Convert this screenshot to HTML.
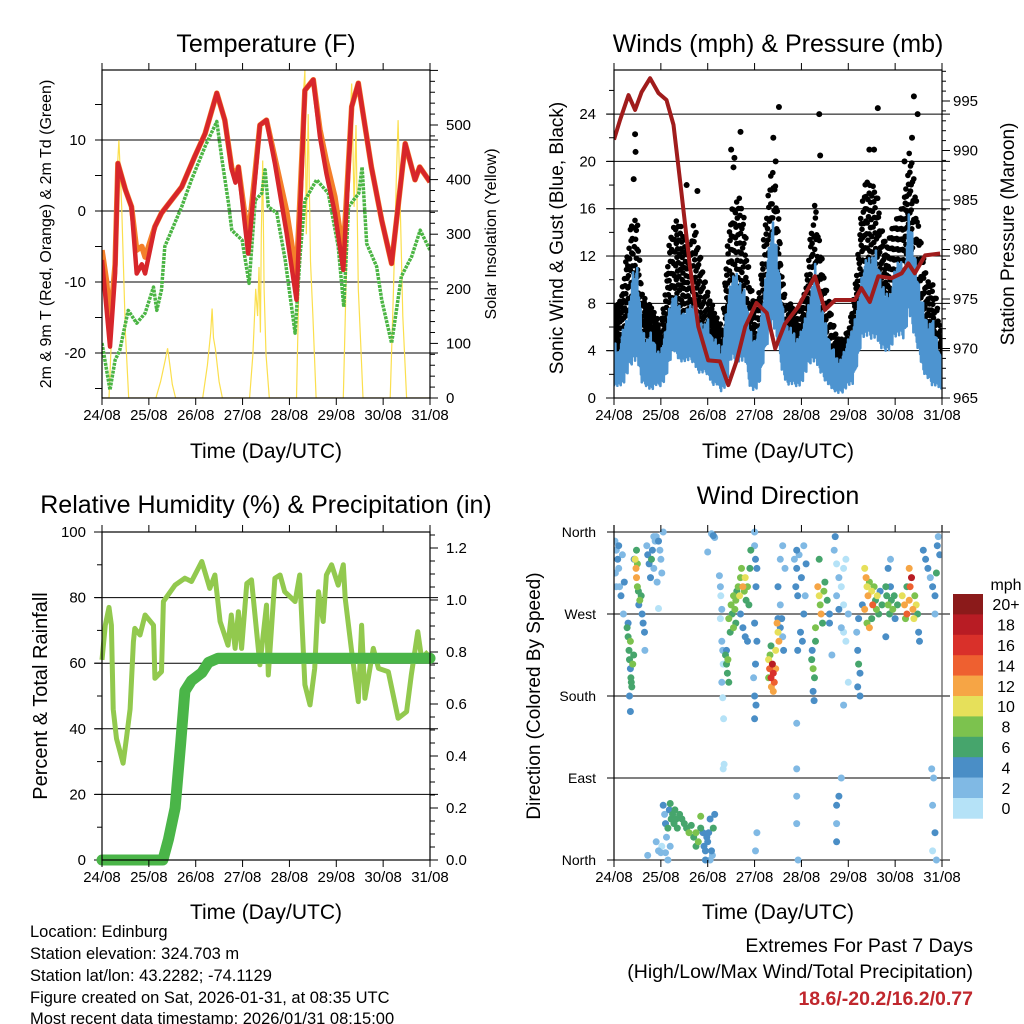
<!DOCTYPE html>
<html><head><meta charset="utf-8"><title>Weather Station</title>
<style>
html,body{margin:0;padding:0;background:#fff;}
svg{display:block;font-family:"Liberation Sans",Arial,sans-serif;}
</style></head>
<body>
<svg id="fig" xmlns="http://www.w3.org/2000/svg" width="1024" height="1024" viewBox="0 0 1024 1024">
<rect width="1024" height="1024" fill="#fff"/>
<g id="g-temp"></g>
<g id="g-wind"></g>
<g id="g-rh"></g>
<g id="g-dir"></g>
<g font-size="16.5" fill="#000">
<text x="30" y="937">Location: Edinburg</text>
<text x="30" y="959">Station elevation: 324.703 m</text>
<text x="30" y="981">Station lat/lon: 43.2282; -74.1129</text>
<text x="30" y="1003">Figure created on Sat, 2026-01-31, at 08:35 UTC</text>
<text x="30" y="1024">Most recent data timestamp: 2026/01/31 08:15:00</text>
</g>
<g font-size="19.5" text-anchor="end">
<text x="973" y="952">Extremes For Past 7 Days</text>
<text x="973" y="978">(High/Low/Max Wind/Total Precipitation)</text>
<text x="973" y="1005" font-weight="bold" fill="#c0272d">18.6/-20.2/16.2/0.77</text>
</g>
</svg>
<script>
// ---------- data ----------
const dayLabels = ["24/08","25/08","26/08","27/08","28/08","29/08","30/08","31/08"];
const tempTicks = [-20,-10,0,10];
const solarTicks = [0,100,200,300,400,500];
const windTicks = [0,4,8,12,16,20,24];
const pressTicks = [965,970,975,980,985,990,995];
const rhTicks = [0,20,40,60,80,100];
const precipTicks = ["0.0","0.2","0.4","0.6","0.8","1.0","1.2"];
const dirLabels = ["North","West","South","East","North"];
const dirTickVals = [360,270,180,90,0];
const speedLabels = ["0","2","4","6","8","10","12","14","16","18","20+"];
const speedColors = ["#b5e2f7","#80b9e4","#4a8ec6","#46a56c","#7cc24e","#e6e05a","#f6a545","#ee6030","#d9302a","#b81c24","#8b1a1a"];

const t2mTimes = [0,0.1,0.17,0.28,0.34,0.5,0.63,0.74,0.85,0.92,1.13,1.27,1.7,1.98,2.2,2.45,2.62,2.77,2.85,2.91,3.12,3.37,3.51,3.69,3.94,4.15,4.33,4.51,4.65,4.79,4.97,5.15,5.33,5.47,5.75,5.97,6.18,6.47,6.68,6.78,7.0];
const t2mVals = [-6.9,-14,-19.1,-8.8,6.7,3,0.6,-8.8,-7.5,-8.8,-2.2,-0.3,3.4,7.7,10.9,16.6,12.8,5.8,4,6.2,-6.0,12.1,12.8,6.7,-3.1,-12.5,17,18.5,10.5,5.3,-0.3,-8.3,14.7,18,6.2,-1.3,-7.4,9.5,4.4,6.2,4.1];
const t9mTimes = [0,0.1,0.17,0.28,0.34,0.5,0.63,0.74,0.85,0.92,1.13,1.27,1.7,1.98,2.2,2.45,2.62,2.77,2.85,2.91,3.12,3.37,3.51,3.69,3.94,4.15,4.33,4.51,4.65,4.79,4.97,5.15,5.33,5.47,5.75,5.97,6.18,6.47,6.68,6.78,7.0];
const t9mVals = [-5.5,-10,-16,-7.5,6.7,3,0.6,-5.5,-5,-6.5,-2.2,-0.3,3.4,7.7,10.9,16.6,12.8,6,5,6.2,-4,12.1,12.8,7.5,0,-9,17,18.5,11.5,7,2,-6,14.7,18,6.2,-1.3,-7.4,9.5,4.4,6.2,4.1];
const tdTimes = [0,0.17,0.28,0.38,0.56,0.74,0.92,1.1,1.17,1.27,1.34,1.7,1.91,2.2,2.45,2.56,2.7,2.77,2.99,3.14,3.27,3.41,3.48,3.55,3.73,3.91,4.12,4.23,4.33,4.58,4.83,5.04,5.16,5.26,5.48,5.55,5.65,5.86,5.97,6.18,6.39,6.61,6.79,7.0];
const tdVals = [-18.6,-25.2,-21,-19.6,-14,-15.8,-14.4,-10.7,-14,-11.1,-5,0.6,4.4,9.1,12.6,7.2,1.1,-2.7,-4.1,-10.2,1.5,2.5,5.8,0.6,-0.3,-6.9,-17.2,-6,1.5,4.4,2.5,-5,-13.5,0.6,2.5,6.2,-4.6,-7.8,-12.5,-18.6,-9.2,-6.4,-2.7,-5.5];
const solarTimes = [0,0.15,0.22,0.3,0.36,0.42,0.5,0.57,1.15,1.25,1.35,1.4,1.45,1.5,1.57,2.15,2.25,2.32,2.35,2.38,2.42,2.5,2.57,3.15,3.22,3.28,3.32,3.35,3.38,3.4,3.43,3.46,3.5,3.57,4.15,4.2,4.25,4.3,4.33,4.36,4.4,4.45,4.5,4.57,5.15,5.22,5.28,5.33,5.38,5.42,5.47,5.52,5.57,6.15,6.22,6.28,6.32,6.38,6.42,6.5,7.0];
const solarVals = [0,0,150,380,472,350,120,0,0,30,70,91,60,25,0,0,60,120,164,110,90,30,0,0,80,200,150,240,120,300,435,200,80,0,0,200,440,560,600,300,520,250,150,0,0,250,480,576,350,500,200,100,0,0,200,400,509,300,150,0,0];

const pressTimes = [0,0.13,0.31,0.45,0.59,0.77,0.95,1.12,1.27,1.44,1.62,1.8,2.01,2.26,2.44,2.62,2.8,3.04,3.26,3.44,3.65,3.93,4.29,4.5,4.72,5.14,5.28,5.46,5.64,5.92,6.14,6.28,6.42,6.64,6.96];
const pressVals = [991.1,993.1,995.6,994.1,995.9,997.3,995.8,995.1,992.6,985.7,978.3,972.2,968.8,968.7,966.3,968.8,972.2,974.6,973.6,970,972.5,974.2,977.3,973.9,974.9,974.9,976.1,974.7,977.3,977.1,977.6,978.6,977.6,979.4,979.6];
const windTimes = [0,0.1,0.2,0.3,0.4,0.5,0.6,0.7,0.8,0.9,1.0,1.1,1.2,1.3,1.4,1.5,1.6,1.7,1.8,1.9,2.0,2.1,2.2,2.3,2.4,2.5,2.6,2.7,2.8,2.9,3.0,3.1,3.2,3.3,3.4,3.5,3.6,3.7,3.8,3.9,4.0,4.1,4.2,4.3,4.4,4.5,4.6,4.7,4.8,4.9,5.0,5.1,5.2,5.3,5.4,5.5,5.6,5.7,5.8,5.9,6.0,6.1,6.2,6.3,6.4,6.5,6.6,6.7,6.8,6.9,7.0];
const sonicHigh = [5,4,6,7,11,11,6,5,6,4,4,6,8,9,8,7,8,8,7,6,7,5,5,4,8,10,11,10,9,6,5,6,9,13,15,12,8,6,6,5,6,7,9,12,8,7,5,4,3,4,5,6,8,11,12,12,13,10,9,9,11,12,11,16,13,10,8,6,7,5,3];
const sonicLow = [1,1,1,2,3,3,1,1,0.5,1,1,1.5,3,4,3,3,3,3,2,2,2,1,1,0.5,1,3,3,3,3,1,0.5,1,3,5,6,4,2,1,1,1,1,2,3,3,2,1.5,1,0.5,0.3,0.5,1,1,3,5,5,5,5,4,4,4,5,5,5,7,5,4,2,1.5,1,1,0.5];
const gustHigh = [8,8,10,13,16,15,9,8,8,7,6,10,14,15,15,14,13,15,13,11,9,8,7,6,12,16,17,17,15,10,8,9,14,18,20,16,10,8,8,7,8,10,14,17,13,10,8,6,5,5,6,8,12,17,19,18,18,15,13,14,15,16,17,21,19,15,12,10,10,8,5];
const gustLow = [4,4,4,5,6,5,3,4,3,2,2,3,6,7,7,6,6,6,5,4,3,3,2,2,4,7,8,7,6,3,3,3,6,8,10,8,4,3,3,3,2,4,6,7,5,4,3,2,2,2,2,3,5,9,10,9,9,8,7,7,8,9,10,12,10,7,5,4,3,3,2];
const gustPeakTimes = [0.45,0.46,0.42,2.5,2.7,2.57,3.52,3.45,4.38,4.4,5.63,5.55,6.4,6.48,6.36,1.55,1.78,2.55,3.4,5.45,6.2];
const gustPeakVals = [22.3,20.8,18.5,21,22.5,20.3,24.6,20,24,20.5,24.5,21,25.5,24,22,18,17.5,19.5,22,21,20];

const rhTimes = [0,0.07,0.15,0.2,0.24,0.31,0.45,0.52,0.6,0.67,0.7,0.81,0.92,1.1,1.13,1.27,1.31,1.56,1.77,1.91,2.13,2.3,2.41,2.52,2.69,2.76,2.84,2.91,2.98,3.09,3.19,3.37,3.51,3.55,3.69,3.8,3.9,4.12,4.22,4.33,4.44,4.54,4.62,4.72,4.79,4.9,5.04,5.15,5.19,5.33,5.47,5.54,5.61,5.79,5.9,6.11,6.32,6.5,6.6,6.74,6.82,6.96];
const rhVals = [61,71.6,77,71.6,46,37,29.5,37,46,66.5,70.6,68.6,74.7,71.6,55.4,57.4,78.8,83.8,85.9,84.9,91,82.8,86.9,72.7,65.5,74.7,64.5,75.7,64.5,84.3,85.4,59.5,77.7,56.4,85.9,86.9,81.8,78.8,86.9,53.4,47.3,58.4,81.8,72.7,86.9,90,83.8,90,79.8,63.5,48.3,71.6,49.3,64.5,58.4,57.4,43.2,45.2,56.4,69.6,61.5,63.5];
const precipTimes = [0,1.3,1.42,1.56,1.68,1.77,1.91,2.13,2.27,2.48,7.0];
const precipVals = [0,0,0.08,0.2,0.45,0.65,0.69,0.72,0.76,0.776,0.776];

const dirDays = [0.02,0.05,0.08,0.1,0.03,0.12,0.15,0.2,0.05,0.1,0.18,0.22,
0.28,0.3,0.32,0.33,0.35,0.36,0.38,0.4,0.42,0.35,0.3,0.33,0.37,0.35,
0.45,0.47,0.48,0.5,0.52,0.55,0.5,0.53,0.6,0.62,0.58,0.65,0.66,0.48,0.43,
0.7,0.72,0.75,0.8,0.82,0.85,0.88,0.9,0.95,0.98,1.0,1.02,0.78,0.92,0.85,1.05,0.95,
1.05,1.08,1.1,1.12,1.15,1.18,1.2,1.22,1.25,1.28,1.3,1.33,1.35,1.0,1.02,0.9,0.95,0.72,1.1,1.2,1.15,
1.4,1.45,1.5,1.55,1.6,1.65,1.7,1.75,1.8,1.85,1.9,1.92,1.95,1.98,2.0,2.02,2.05,2.08,2.1,2.12,1.85,1.75,2.15,1.95,2.05,
2.08,2.12,2.15,2.0,
2.25,2.27,2.28,2.3,2.27,2.3,2.32,2.33,2.3,2.32,2.34,2.33,2.35,
2.38,2.4,2.42,2.4,2.45,2.43,
2.5,2.52,2.55,2.58,2.6,2.62,2.65,2.68,2.7,2.72,2.75,2.78,2.8,2.82,2.85,2.88,2.9,2.92,2.55,2.6,2.45,2.48,2.7,2.75,2.8,2.85,
3.0,3.02,3.05,3.03,3.0,3.05,3.02,3.0,3.03,3.0,2.98,3.05,3.02,3.0,
3.3,3.32,3.35,3.38,3.4,3.42,3.36,3.33,3.4,3.45,3.3,3.45,3.35,
3.48,3.5,3.52,3.55,3.58,3.6,3.62,3.55,3.5,3.6,3.65,3.55,
3.85,3.9,3.95,4.0,3.88,3.92,4.05,3.98,4.02,3.9,4.05,4.1,4.08,3.92,3.9,3.9,3.9,3.9,3.93,3.5,
4.22,4.25,4.28,4.25,4.27,4.23,4.3,
4.35,4.38,4.4,4.42,4.45,4.48,4.5,4.55,4.6,4.38,4.3,
4.7,4.75,4.8,4.85,4.9,4.95,4.75,4.8,4.85,4.9,4.95,4.72,4.75,4.75,4.75,4.8,4.9,4.85,5.0,4.9,5.0,4.6,4.65,
5.2,5.22,5.25,5.2,5.25,5.18,5.22,5.3,
5.35,5.38,5.4,5.42,5.45,5.5,5.52,5.55,5.58,5.6,5.62,5.65,5.68,5.72,5.35,5.4,5.45,5.5,
5.8,5.82,5.85,5.88,5.9,5.92,5.95,5.98,6.0,6.05,5.85,5.8,5.9,
6.15,6.2,6.25,6.3,6.32,6.35,6.38,6.4,6.42,6.45,6.25,6.3,6.22,6.48,6.5,6.52,
6.6,6.65,6.7,6.75,6.8,6.85,6.9,6.92,6.95,6.88,6.85,6.78,6.8,6.85,6.82,6.8,6.88];
const dirVals = [350,340,330,320,315,300,290,270,300,345,335,305,
255,245,230,220,210,200,190,215,225,240,260,180,195,163,
330,320,310,300,295,285,325,280,270,260,290,250,230,340,330,
345,335,325,330,340,320,350,355,350,340,330,315,310,305,355,360,276,
60,50,40,25,35,55,62,45,50,40,55,45,35,8,15,20,10,5,8,15,0,
50,45,40,35,30,38,25,30,20,35,30,15,10,25,20,30,45,10,5,35,48,15,50,0,0,
358,356,354,338,
312,300,290,275,265,240,230,215,195,178,155,100,105,
225,215,205,230,195,220,
280,270,290,275,285,295,300,290,310,320,300,295,310,285,300,280,320,340,255,260,265,250,270,255,245,240,
345,330,320,300,260,240,215,180,170,155,200,30,10,360,
220,210,200,215,205,195,190,225,185,230,200,210,235,
260,250,240,255,265,245,230,280,300,345,320,330,
330,320,335,310,300,290,270,250,240,340,345,325,290,230,150,100,70,40,0,265,
220,210,200,185,175,230,240,
300,290,280,270,260,295,305,285,270,330,255,
340,325,310,300,320,330,290,275,255,250,240,355,20,40,60,70,170,90,195,280,270,260,225,
230,215,205,190,180,250,265,280,
320,310,300,290,305,295,280,300,285,275,290,270,295,280,275,260,255,265,
300,290,280,270,300,285,275,290,265,280,320,245,330,
290,280,270,285,300,310,275,265,290,280,300,320,265,270,250,240,
340,330,320,310,300,290,345,355,335,315,270,100,60,30,90,10,0];
const dirSpeeds = [3,2,4,2,3,2,4,3,2,4,3,4,
7,6,7,6,4,7,6,8,7,8,4,5,6,4,
10,12,13,8,7,8,9,4,4,4,6,4,3,6,4,
3,4,5,6,4,3,2,3,4,2,3,2,4,3,2,2,0,
4,2,4,3,6,4,6,7,7,6,6,7,6,2,0,2,2,2,3,2,2,
7,6,6,7,8,6,7,8,8,6,4,4,4,4,4,4,4,4,3,6,8,6,4,4,3,
2,4,3,2,
2,2,1,2,0,3,2,1,2,1,1,1,0,
6,6,7,4,6,8,
8,7,8,9,8,6,8,10,9,8,12,8,11,6,8,7,6,6,8,6,8,6,4,4,4,4,
2,4,4,4,4,4,4,4,4,4,2,2,2,2,
10,14,16,18,16,14,12,8,13,10,8,12,6,
12,10,12,4,4,3,4,3,4,2,3,2,
2,4,2,4,4,4,4,4,4,4,2,4,2,4,2,2,2,2,2,4,
6,8,6,4,4,4,6,
12,10,8,12,6,8,6,6,4,6,8,
2,0,2,0,1,0,2,4,2,0,0,4,4,2,4,4,2,2,0,0,2,4,2,
4,6,4,4,4,2,4,4,
10,12,10,12,8,10,14,8,6,8,10,6,4,6,12,8,12,6,
6,6,8,6,4,6,8,6,4,6,4,4,2,
10,12,14,12,14,18,12,10,8,10,6,12,8,6,4,4,
4,4,4,2,4,4,4,2,4,6,2,2,2,4,2,0,2];

// ---------- helpers ----------
const NS = "http://www.w3.org/2000/svg";
function mk(parent, tag, attrs, text) {
  const el = document.createElementNS(NS, tag);
  for (const k in attrs) el.setAttribute(k, attrs[k]);
  if (text !== undefined) el.textContent = text;
  parent.appendChild(el);
  return el;
}
function pathFrom(xs, ys, fx, fy) {
  let d = "";
  for (let i = 0; i < xs.length; i++) d += (i ? "L" : "M") + fx(xs[i]).toFixed(1) + "," + fy(ys[i]).toFixed(1);
  return d;
}
function interp(xs, ys, t) {
  if (t <= xs[0]) return ys[0];
  for (let i = 1; i < xs.length; i++) {
    if (t <= xs[i]) { const f = (t - xs[i-1]) / (xs[i] - xs[i-1]); return ys[i-1] + f * (ys[i] - ys[i-1]); }
  }
  return ys[ys.length-1];
}
function dayAxis(g, x0, x1, yBottom, yTop, fx, tickLabelY, titleY) {
  for (let i = 0; i < dayLabels.length; i++) {
    const x = fx(i);
    const tb = mk(g, "line", {x1:x, y1:yBottom, x2:x, y2:yBottom+7, stroke:"#000", "stroke-width":1});
    
    
    const tt = mk(g, "line", {x1:x, y1:yTop, x2:x, y2:yTop-7, stroke:"#000", "stroke-width":1});
    
    
    const lb = mk(g, "text", {x:x, y:tickLabelY, "font-size":15, "text-anchor":"middle"}, dayLabels[i]);
    
    
  }
  const tl = mk(g, "text", {x:(x0+x1)/2, y:titleY, "font-size":21, "text-anchor":"middle"}, "Time (Day/UTC)");
  
  
}
function frame(g, x0, y0, x1, y1) {
  const r = mk(g, "rect", {x:x0, y:y0, width:x1-x0, height:y1-y0, fill:"none", stroke:"#000", "stroke-width":1.2});
  
  
}
function gridline(g, y, x0, x1) {
  const l = mk(g, "line", {x1:x0-7, y1:y, x2:x1+8, y2:y, stroke:"#000", "stroke-width":1});
  
  
}
function tickMark(g, x, y, dx) {
  const l = mk(g, "line", {x1:x, y1:y, x2:x+dx, y2:y, stroke:"#000", "stroke-width":1});
  
  
}
function yTitle(g, x, y, size, txt, name) {
  const t = mk(g, "text", {x:0, y:0, "font-size":size, "text-anchor":"middle", transform:"translate("+x+","+y+") rotate(-90)"}, txt);
  
  
}
function title(g, x, y, txt) {
  const t = mk(g, "text", {x:x, y:y, "font-size":25, "text-anchor":"middle"}, txt);
  
  
}

// ---------- Temperature panel ----------
(function(){
  const g = document.getElementById("g-temp");
  const X0=102, X1=430, Y0=70, Y1=398;
  const fx = d => X0 + (X1-X0)/7*d;
  const fy = v => 211 - 7.1*v;
  const fs = w => 398 - 0.546*w;
  title(g, 266, 52, "Temperature (F)");
  const clip = mk(g, "clipPath", {id:"clipT"});
  mk(clip, "rect", {x:X0, y:Y0, width:X1-X0, height:Y1-Y0});
  tempTicks.forEach(v => gridline(g, fy(v), X0, X1));
  for (let v=-25; v<=20; v+=5) if (fy(v)>=Y0 && fy(v)<=Y1) tickMark(g, X0, fy(v), -7);
  for (let w=0; w<=600; w+=20) if (fs(w)>=Y0) tickMark(g, X1, fs(w), w%100===0?8:5);
  const pg = mk(g, "g", {"clip-path":"url(#clipT)"});
  
  
  const s = mk(pg, "path", {d:pathFrom(solarTimes, solarVals, fx, fs), fill:"none", stroke:"#fbdf4d", "stroke-width":1.2});
  
  
  const td = mk(pg, "path", {d:pathFrom(tdTimes, tdVals, fx, fy), fill:"none", stroke:"#4bb544", "stroke-width":3.5, "stroke-dasharray":"3,1", "stroke-linejoin":"round"});
  
  
  const o = mk(pg, "path", {d:pathFrom(t9mTimes, t9mVals, fx, fy), fill:"none", stroke:"#f47f2a", "stroke-width":5.5, "stroke-linejoin":"round"});
  
  
  const r = mk(pg, "path", {d:pathFrom(t2mTimes, t2mVals, fx, fy), fill:"none", stroke:"#d7262b", "stroke-width":4.5, "stroke-linejoin":"round"});
  
  
  frame(g, X0, Y0, X1, Y1);
  tempTicks.forEach(v => { const t = mk(g, "text", {x:86, y:fy(v)+5, "font-size":15, "text-anchor":"end"}, String(v));   });
  solarTicks.forEach(w => { const t = mk(g, "text", {x:446, y:fs(w)+5, "font-size":15}, String(w));   });
  dayAxis(g, X0, X1, Y1, Y0, fx, 420, 458);
  yTitle(g, 51, 234, 16, "2m & 9m T (Red, Orange) & 2m Td (Green)", "y-axis-title");
  yTitle(g, 496, 234, 16, "Solar Insolation (Yellow)", "y2-axis-title");
})();

// ---------- Wind panel ----------
(function(){
  const g = document.getElementById("g-wind");
  const X0=614, X1=942, Y0=70, Y1=398;
  const fx = d => X0 + (X1-X0)/7*d;
  const fy = v => 398 - 11.83*v;
  const fp = p => 398 - 9.9*(p-965);
  title(g, 778, 52, "Winds (mph) & Pressure (mb)");
  const clip = mk(g, "clipPath", {id:"clipW"});
  mk(clip, "rect", {x:X0, y:Y0-4, width:X1-X0, height:Y1-Y0+4});
  windTicks.forEach(v => { if (v>0) gridline(g, fy(v), X0, X1); });
  for (let v=0; v<=26; v+=2) tickMark(g, X0, fy(v), v%4===0?-8:-5);
  for (let p=965; p<=998; p+=1) tickMark(g, X1, fp(p), p%5===0?8:4);
  const pg = mk(g, "g", {"clip-path":"url(#clipW)"});
  
  
  // gust scatter: dots spread between interpolated low/high envelope
  const gustG = mk(pg, "g", {fill:"#000"});
  
  
  let k = 0;
  for (let t = 0; t <= 7.0001; t += 0.014) {
    const hi = interp(windTimes, gustHigh, t), lo = interp(windTimes, gustLow, t);
    for (let j = 0; j < 3; j++) {
      k++;
      const f = (k * 0.6180339) % 1;
      const c = mk(gustG, "circle", {cx:fx(t).toFixed(1), cy:fy(lo + (hi-lo)*f).toFixed(1), r:2.8});
      
      
    }
  }
  for (let i=0;i<gustPeakTimes.length;i++) {
    const c = mk(gustG, "circle", {cx:fx(gustPeakTimes[i]), cy:fy(gustPeakVals[i]), r:3});
    
    
  }
  // sonic wind: dense zigzag between envelope
  let d = "", n = 0;
  for (let t = 0; t <= 7.0001; t += 0.009) {
    const hi = interp(windTimes, sonicHigh, t), lo = interp(windTimes, sonicLow, t);
    const f = (n % 2 === 0) ? 0.15 + ((n*0.382)%1)*0.2 : 0.75 + ((n*0.618)%1)*0.25;
    const v = lo + (hi-lo)*(n%2===0 ? f-0.15 : f);
    d += (n ? "L" : "M") + fx(t).toFixed(1) + "," + fy(v).toFixed(1);
    n++;
  }
  const se = mk(pg, "path", {d:d, fill:"none", stroke:"#4d94d0", "stroke-width":2.6, "stroke-linejoin":"round"});
  
  
  const pl = mk(pg, "path", {d:pathFrom(pressTimes, pressVals, fx, fp), fill:"none", stroke:"#a01c1c", "stroke-width":4, "stroke-linejoin":"round"});
  
  
  frame(g, X0, Y0, X1, Y1);
  windTicks.forEach(v => { const t = mk(g, "text", {x:596, y:fy(v)+5, "font-size":15, "text-anchor":"end"}, String(v));   });
  pressTicks.forEach(p => { const t = mk(g, "text", {x:953, y:fp(p)+5, "font-size":15}, String(p));   });
  dayAxis(g, X0, X1, Y1, Y0, fx, 420, 458);
  yTitle(g, 563, 238, 19, "Sonic Wind & Gust (Blue, Black)", "y-axis-title");
  yTitle(g, 1014, 234, 19, "Station Pressure (Maroon)", "y2-axis-title");
})();

// ---------- RH panel ----------
(function(){
  const g = document.getElementById("g-rh");
  const X0=102, X1=430, Y0=532, Y1=860;
  const fx = d => X0 + (X1-X0)/7*d;
  const fy = v => 860 - 3.28*v;
  const fp = p => 860 - 260*p;
  title(g, 266, 513, "Relative Humidity (%) & Precipitation (in)");
  rhTicks.forEach(v => { if (v>0 && v<100) gridline(g, fy(v), X0, X1); });
  for (let v=0; v<=100; v+=10) tickMark(g, X0, fy(v), v%20===0?-8:-5);
  for (let i=0; i<=25; i++) { const p=i*0.05; if (fp(p)>=Y0) tickMark(g, X1, fp(p), i%4===0?8:5); }
  const rl = mk(g, "path", {d:pathFrom(rhTimes, rhVals, fx, fy), fill:"none", stroke:"#92c94e", "stroke-width":5, "stroke-linejoin":"round"});
  
  
  const pl = mk(g, "path", {d:pathFrom(precipTimes, precipVals, fx, fp), fill:"none", stroke:"#4ab548", "stroke-width":11, "stroke-linejoin":"round", "stroke-linecap":"round"});
  
  
  frame(g, X0, Y0, X1, Y1);
  rhTicks.forEach(v => { const t = mk(g, "text", {x:86, y:fy(v)+5, "font-size":15, "text-anchor":"end"}, String(v));   });
  precipTicks.forEach(p => { const t = mk(g, "text", {x:446, y:fp(parseFloat(p))+5, "font-size":15}, p);   });
  dayAxis(g, X0, X1, Y1, Y0, fx, 882, 919);
  yTitle(g, 47, 696, 20, "Percent & Total Rainfall", "y-axis-title");
})();

// ---------- Wind direction panel ----------
(function(){
  const g = document.getElementById("g-dir");
  const X0=614, X1=942, Y0=532, Y1=860;
  const fx = d => X0 + (X1-X0)/7*d;
  const fy = v => 532 + (360-v)*328/360;
  title(g, 778, 504, "Wind Direction");
  dirTickVals.forEach(v => gridline(g, fy(v), X0, X1));
  const clip = mk(g, "clipPath", {id:"clipD"});
  mk(clip, "rect", {x:X0, y:Y0-4, width:X1-X0, height:Y1-Y0+8});
  const pg = mk(g, "g", {"clip-path":"url(#clipD)"});
  
  
  const order = dirSpeeds.map((s,i)=>i).sort((a,b)=>dirSpeeds[a]-dirSpeeds[b]);
  order.forEach(i => {
    const bin = Math.max(0, Math.min(10, Math.floor(dirSpeeds[i]/2)));
    const c = mk(pg, "circle", {cx:fx(dirDays[i]).toFixed(1), cy:fy(dirVals[i]).toFixed(1), r:3.5, fill:speedColors[bin]});
    
    
  });
  const l1 = mk(g, "line", {x1:X0, y1:Y0-7, x2:X0, y2:Y1, stroke:"#000", "stroke-width":1.2});
  
  
  const l2 = mk(g, "line", {x1:X1, y1:Y0-7, x2:X1, y2:Y1, stroke:"#555", "stroke-width":1.2});
  
  
  dirLabels.forEach((lab,i) => { const t = mk(g, "text", {x:596, y:fy(dirTickVals[i])+5, "font-size":14, "text-anchor":"end"}, lab);   });
  dayAxis(g, X0, X1, Y1, Y0, fx, 882, 919);
  yTitle(g, 540, 696, 19, "Direction (Colored By Speed)", "y-axis-title");
  const cb = mk(g, "g", {});
  
  
  const mt = mk(cb, "text", {x:1006, y:590, "font-size":16, "text-anchor":"middle"}, "mph");
  
  
  const bh = 20.4;
  for (let i=0;i<speedLabels.length;i++) {
    const k = speedLabels.length-1-i;
    const y = 594 + i*bh;
    const r = mk(cb, "rect", {x:953, y:y, width:30, height:bh+0.3, fill:speedColors[k]});
    
    
    const t = mk(cb, "text", {x:1006, y:y+bh/2+6, "font-size":16, "text-anchor":"middle"}, speedLabels[k]);
    
    
  }
})();
</script>
</body></html>
